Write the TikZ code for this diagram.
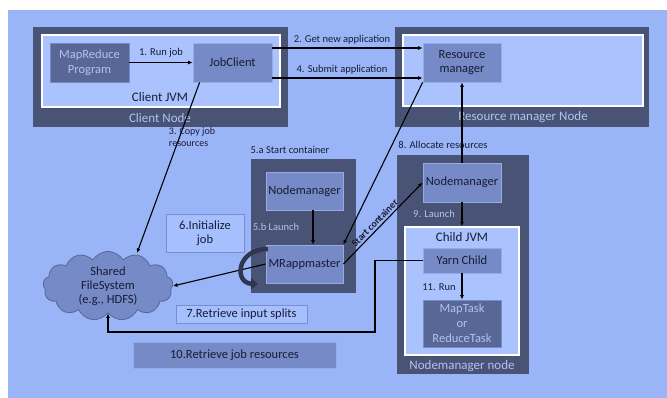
\documentclass[tikz,border=0pt]{standalone}
\usepackage{fontspec}
\setmainfont{Carlito}
\usetikzlibrary{shapes.symbols,arrows.meta}
\definecolor{bg}{RGB}{154,180,248}
\definecolor{dk}{RGB}{72,83,118}
\definecolor{inner}{RGB}{170,195,255}
\definecolor{mid}{RGB}{118,138,200}
\definecolor{midb}{RGB}{150,170,228}
\definecolor{deep}{RGB}{88,103,150}
\definecolor{txt}{RGB}{25,28,50}
\definecolor{ltxt}{RGB}{178,195,240}
\definecolor{curl}{RGB}{48,54,80}
\definecolor{lbox}{RGB}{166,192,255}
\definecolor{lboxb}{RGB}{122,142,205}
\tikzset{
  outerbox/.style={fill=dk, draw=none, inner sep=0pt},
  inbox/.style={fill=inner, draw=white, line width=1.2pt, inner sep=0pt},
  proc/.style={fill=mid, draw=midb, line width=0.8pt, text=txt, align=center, inner sep=0pt,
    font=\fontsize{12.5}{14.5}\selectfont},
  deepbox/.style={fill=deep, draw=mid, line width=0.8pt, text=ltxt, align=center, inner sep=0pt,
    font=\fontsize{12.5}{15}\selectfont},
  notebox/.style={fill=lbox, draw=lboxb, line width=0.8pt, text=txt, align=center, inner sep=0pt,
    font=\fontsize{12.5}{14.5}\selectfont},
  lbl/.style={text=txt, font=\fontsize{10.5}{12}\selectfont, inner sep=1pt},
  dlbl/.style={text=ltxt, font=\fontsize{10.5}{12}\selectfont, inner sep=1pt},
  biglbl/.style={text=txt, font=\fontsize{13}{14}\selectfont, inner sep=1pt},
  bigdlbl/.style={text=ltxt, font=\fontsize{13}{14}\selectfont, inner sep=1pt},
  arr/.style={draw=black, line width=1.1pt, -{Latex[length=4.5pt,width=4pt]}},
}
\begin{document}
\begin{tikzpicture}[x=1pt,y=-1pt]
\useasboundingbox (0,0) rectangle (667,398);
\fill[white] (0,0) rectangle (667,398);
\fill[bg] (8,10) rectangle (667,398);

% Client node
\node[outerbox, minimum width=255pt, minimum height=100pt] (cnode) at (160.5,77) {};
\node[inbox, minimum width=238pt, minimum height=72pt] (cjvm) at (161,71) {};
\node[bigdlbl] (cnodel) at (160,118) {Client Node};
\node[biglbl] (cjvml) at (160,97) {Client JVM};
\node[deepbox, minimum width=79pt, minimum height=39pt] (mr) at (89.5,62.5) {MapReduce\\Program};
\node[proc, minimum width=79pt, minimum height=39pt] (jc) at (232.5,62.5) {JobClient};

% Resource manager node
\node[outerbox, minimum width=254pt, minimum height=100pt] (rnode) at (522,77) {};
\node[inbox, minimum width=240pt, minimum height=71pt] (rin) at (523,70.5) {};
\node[bigdlbl] (rnodel) at (523,117) {Resource manager Node};
\node[proc, minimum width=78pt, minimum height=39pt] (rm) at (462,62.5) {Resource\\manager};

% Nodemanager node
\node[outerbox, minimum width=132pt, minimum height=219pt] (nnode) at (463,264.5) {};
\node[proc, minimum width=78pt, minimum height=39pt] (nmr) at (462,182.5) {Nodemanager};
\node[inbox, minimum width=114pt, minimum height=128pt] (cjvm2) at (462,291) {};
\node[biglbl] (cjvm2l) at (462,237) {Child JVM};
\node[proc, minimum width=78pt, minimum height=25pt] (yc) at (462,260.5) {Yarn Child};
\node[deepbox, minimum width=78pt, minimum height=47pt] (mt) at (462,323.5) {MapTask\\or\\ReduceTask};
\node[bigdlbl] (nnodel) at (462,366) {Nodemanager node};

% 5.a container node
\node[outerbox, minimum width=105pt, minimum height=134pt] (anode) at (303.5,226) {};
\node[proc, minimum width=77pt, minimum height=38pt] (nml) at (304.5,191) {Nodemanager};
\node[proc, minimum width=77pt, minimum height=38pt] (mra) at (304.5,264) {MRappmaster};

% notes
\node[notebox, minimum width=78pt, minimum height=38pt] (init) at (205,233) {6.Initialize\\job};
\node[notebox, minimum width=131pt, minimum height=18pt] (split) at (241.5,314) {7.Retrieve input splits};
\node[proc, minimum width=203pt, minimum height=26pt] (jres) at (234.5,355) {10.Retrieve job resources};

% cloud
\node[cloud, cloud puffs=13, cloud puff arc=120, aspect=2.1, fill=mid, draw=deep, line width=0.8pt,
  minimum width=130pt, minimum height=62pt, inner sep=0pt, align=center, text=txt,
  font=\fontsize{12.5}{14}\selectfont] (cloud) at (108,286) {Shared\\FileSystem\\(e.g., HDFS)};

% connectors
\draw[arr] (mr.east) -- (jc.west);
\node[lbl] (l1) at (161,53) {1. Run job};
\draw[arr] (jc.east |- 0,48) -- (rm.west |- 0,48);
\node[lbl] (l2) at (342,40) {2. Get new application};
\draw[arr] (jc.east |- 0,78) -- (rm.west |- 0,78);
\node[lbl] (l4) at (342,70) {4. Submit application};

\coordinate (cf1) at (137,253);
\draw[arr] ([xshift=7pt]jc.south west) -- (cf1);
\node[lbl, align=left, font=\fontsize{10}{11.5}\selectfont] (l3) at (192,137) {3. Copy job\\resources};

\draw[arr] (rm.south west) -- (mra.north east);
\node[lbl] (l5a) at (290,150) {5.a Start container};
\draw[arr] ([xshift=8.5pt]nml.south) -- ([xshift=8.5pt]mra.north);
\node[dlbl] (l5b) at (276,227) {5.b Launch};
\draw[arr] (mra.east) -- node[pos=0.45, sloped, above, lbl, font=\bfseries\fontsize{10}{12}\selectfont, yshift=1pt] {Start container} (nmr.west);

\draw[arr] (nmr.north) -- (rm.south);
\node[lbl] (l8) at (443,145) {8. Allocate resources};
\draw[arr] (nmr.south) -- (cjvm2.north);
\node[dlbl] (l9) at (434,214) {9. Launch};
\draw[arr] (yc.south) -- (mt.north);
\node[lbl] (l11) at (439,287) {11. Run};

\coordinate (c1) at (375,332);
\draw[arr] (yc.west) -| (c1) -| (cloud.south);

\draw[arr] (mra.west) -- (cloud.east);
\draw[curl, line width=4.5pt, -{Triangle[length=7pt,width=11pt]}] (268,249) .. controls (236,249) and (234,283) .. (258,284);
\end{tikzpicture}
\end{document}
